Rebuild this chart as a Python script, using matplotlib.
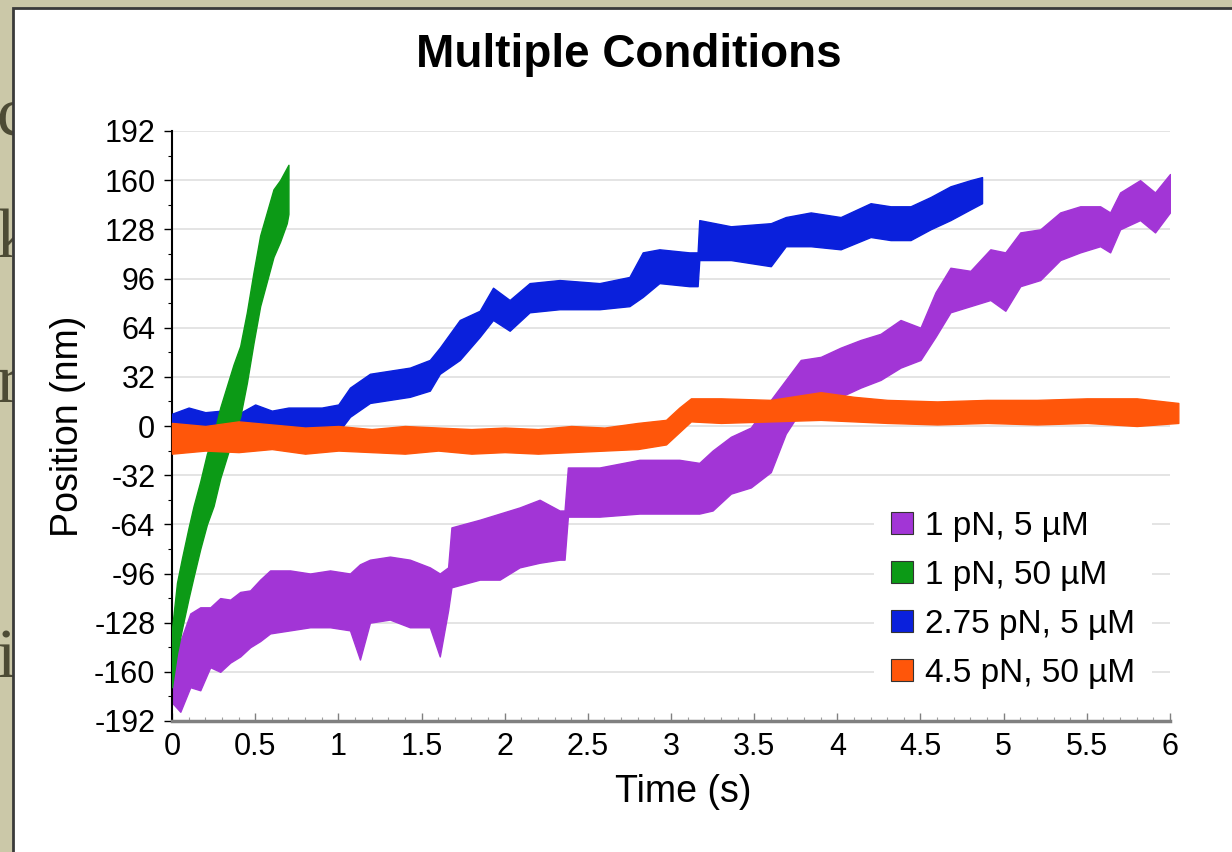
import matplotlib
matplotlib.use("Agg")
import matplotlib.pyplot as plt
from matplotlib.patches import Rectangle, Patch

plt.rcParams['font.family'] = ['Liberation Sans', 'DejaVu Sans']
plt.rcParams['axes.unicode_minus'] = False

# Daten: untere/obere Hüllkurve jeder Spur, Zeit in s, Position in nm
labels = ["1 pN, 5 \u00b5M", "1 pN, 50 \u00b5M", "2.75 pN, 5 \u00b5M", "4.5 pN, 50 \u00b5M"]
farben = ["#a235d6", "#0c9a16", "#0a20dc", "#ff560a"]

t_lila = [0.00, 0.05, 0.11, 0.17, 0.23, 0.29, 0.35, 0.41, 0.47, 0.53, 0.59, 0.71, 0.83, 0.95,
          1.07, 1.13, 1.19, 1.31, 1.43, 1.55, 1.61, 1.66, 1.68, 1.85, 1.97, 2.09, 2.21, 2.33,
          2.36, 2.38, 2.57, 2.81, 3.05, 3.17, 3.25, 3.36, 3.48, 3.60, 3.69, 3.78, 3.90, 4.02,
          4.14, 4.26, 4.38, 4.50, 4.59, 4.68, 4.80, 4.92, 5.01, 5.10, 5.22, 5.34, 5.46, 5.58,
          5.64, 5.70, 5.82, 5.91, 6.00]
lila_unten = [-180, -186, -170, -172, -157, -160, -154, -150, -144, -140, -135, -133, -131, -131,
              -133, -152, -128, -126, -131, -131, -150, -120, -105, -100, -100, -92, -89, -87,
              -87, -59, -59, -57, -57, -57, -55, -44, -40, -30, -5, 10, 15, 19,
              25, 30, 38, 43, 58, 74, 78, 82, 75, 91, 95, 108, 113, 117,
              113, 128, 134, 126, 139]
lila_oben = [-150, -140, -122, -118, -118, -112, -113, -108, -107, -100, -94, -94, -96, -94,
             -96, -90, -87, -85, -87, -92, -96, -92, -66, -61, -57, -53, -48, -55,
             -55, -27, -27, -22, -22, -24, -16, -7, -1, 17, 30, 43, 45, 51,
             56, 60, 69, 64, 87, 103, 101, 115, 113, 126, 128, 139, 143, 143,
             139, 152, 160, 152, 164]

t_gruen = [0.00, 0.03, 0.06, 0.10, 0.13, 0.17, 0.21, 0.25, 0.29, 0.33, 0.37, 0.41, 0.45, 0.49,
           0.53, 0.57, 0.61, 0.65, 0.69, 0.70]
gruen_unten = [-170, -148, -132, -112, -98, -80, -64, -52, -34, -20, -6, 6, 28, 54,
               78, 94, 110, 120, 132, 138]
gruen_oben = [-132, -102, -86, -66, -52, -36, -18, -6, 12, 26, 40, 52, 74, 100,
              124, 139, 154, 160, 168, 170]

t_blau = [0.00, 0.10, 0.20, 0.30, 0.40, 0.50, 0.60, 0.70, 0.80, 0.90, 1.00, 1.07, 1.19, 1.31,
          1.43, 1.55, 1.61, 1.73, 1.85, 1.93, 2.03, 2.15, 2.33, 2.57, 2.75, 2.83, 2.93, 3.11,
          3.16, 3.17, 3.36, 3.60, 3.69, 3.84, 4.02, 4.20, 4.32, 4.44, 4.56, 4.68, 4.80, 4.87]
blau_unten = [-15, -16, -14, -16, -14, -13, -12, -10, -8, -6, -4, 6, 15, 17,
              19, 23, 34, 43, 58, 69, 62, 74, 76, 76, 78, 84, 93, 91,
              91, 108, 108, 104, 117, 117, 115, 123, 121, 121, 128, 134, 141, 145]
blau_oben = [8, 12, 9, 10, 8, 14, 10, 12, 12, 12, 14, 25, 34, 36,
             38, 43, 51, 69, 75, 90, 82, 93, 95, 93, 97, 113, 115, 113,
             113, 134, 130, 132, 136, 139, 136, 145, 143, 143, 149, 156, 160, 162]

t_orange = [0.0, 0.2, 0.4, 0.6, 0.8, 1.0, 1.2, 1.4, 1.6, 1.8, 2.0, 2.2, 2.4, 2.6, 2.8, 2.97,
            3.05, 3.12, 3.3, 3.6, 3.9, 4.1, 4.3, 4.6, 4.9, 5.2, 5.5, 5.8, 6.05]
orange_unten = [-18, -16, -17, -15, -18, -16, -17, -18, -16, -18, -17, -18, -17, -16, -15, -12,
                -4, 3, 2, 3, 4, 3, 2, 1, 2, 1, 2, 0, 2]
orange_oben = [2, 0, 3, 1, -1, 0, -2, 0, -1, -2, -1, -2, 0, -1, 2, 4,
               12, 18, 18, 17, 22, 19, 17, 16, 17, 17, 18, 18, 15]

x_ticks = [0, 0.5, 1, 1.5, 2, 2.5, 3, 3.5, 4, 4.5, 5, 5.5, 6]
y_ticks = [-192, -160, -128, -96, -64, -32, 0, 32, 64, 96, 128, 160, 192]

fig = plt.figure(figsize=(12.32, 8.52), dpi=100)
fig.patch.set_facecolor("#cbc8a8")

# Reste vom Folientext links, teilweise vom weissen Bild verdeckt
for buchstabe, yy in [("c", 118), ("k", 240), ("r", 385), ("i", 660)]:
    fig.text(-0.003, 1 - yy / 852, buchstabe, fontsize=50, family=['Liberation Serif', 'DejaVu Serif'],
             color="#4d4b35", va="center", ha="left", zorder=0.5)

panel = Rectangle((13 / 1232, -0.02), 1.0, 844 / 852 + 0.02, transform=fig.transFigure,
                  facecolor="white", edgecolor="#3a3a3a", lw=2, zorder=1)
fig.add_artist(panel)

ax = fig.add_axes([172 / 1232, 131 / 852, 998 / 1232, 590 / 852])
ax.set_zorder(2)

# Spuren als Bänder zeichnen
ax.fill_between(t_lila, lila_unten, lila_oben, color=farben[0], lw=1, zorder=2)
ax.fill_between(t_blau, blau_unten, blau_oben, color=farben[2], lw=1, zorder=3)
ax.fill_between(t_gruen, gruen_unten, gruen_oben, color=farben[1], lw=1, zorder=4)
ax.fill_between(t_orange, orange_unten, orange_oben, color=farben[3], lw=1, zorder=5, clip_on=False)

ax.set_xlim(0, 6)
ax.set_ylim(-192, 192)
ax.set_xticks(x_ticks)
ax.set_xticklabels(["%g" % v for v in x_ticks])
ax.set_yticks(y_ticks)
ax.set_yticklabels([str(v) for v in y_ticks])
ax.set_xticks([i / 10 for i in range(61)], minor=True)
ax.set_yticks(list(range(-192, 193, 16)), minor=True)

ax.grid(axis="y", color="#e2e2e2", lw=1.3)
ax.set_axisbelow(True)
for s in ["top", "right"]:
    ax.spines[s].set_visible(False)
ax.spines["left"].set_color("black")
ax.spines["left"].set_linewidth(1.5)
ax.spines["bottom"].set_color("#808080")
ax.spines["bottom"].set_linewidth(2.5)

ax.tick_params(axis="y", which="major", length=6, width=1, labelsize=22, pad=6)
ax.tick_params(axis="y", which="minor", length=3, width=0.8)
ax.tick_params(axis="x", which="major", direction="in", length=6, width=1, color="#808080",
               labelsize=22, pad=8)
ax.tick_params(axis="x", which="minor", direction="in", length=3, width=0.8, color="#a0a0a0")

ax.set_xlabel("Time (s)", fontsize=27)
ax.set_ylabel("Position (nm)", fontsize=27)
ax.xaxis.set_label_coords((683 - 172) / 998, (721 - 792) / 590)
ax.xaxis.label.set_va("center")
ax.yaxis.set_label_coords((68 - 172) / 998, 0.5)
ax.yaxis.label.set_va("center")

fig.text(629 / 1232, 1 - 55 / 852, "Multiple Conditions", ha="center", va="center",
         fontsize=33, fontweight="bold", zorder=3)

handles = [Patch(facecolor=f, edgecolor="#333333", lw=0.8) for f in farben]
leg = ax.legend(handles, labels, loc="upper left", bbox_to_anchor=((874 - 172) / 998, (721 - 494) / 590),
                borderaxespad=0, frameon=True, facecolor="white", edgecolor="none", framealpha=1,
                fancybox=False, fontsize=24, handlelength=0.67, handleheight=0.67,
                handletextpad=0.36, labelspacing=0.54, borderpad=0.5)
leg.set_zorder(10)

fig.savefig("out.png", dpi=100, facecolor=fig.get_facecolor())
